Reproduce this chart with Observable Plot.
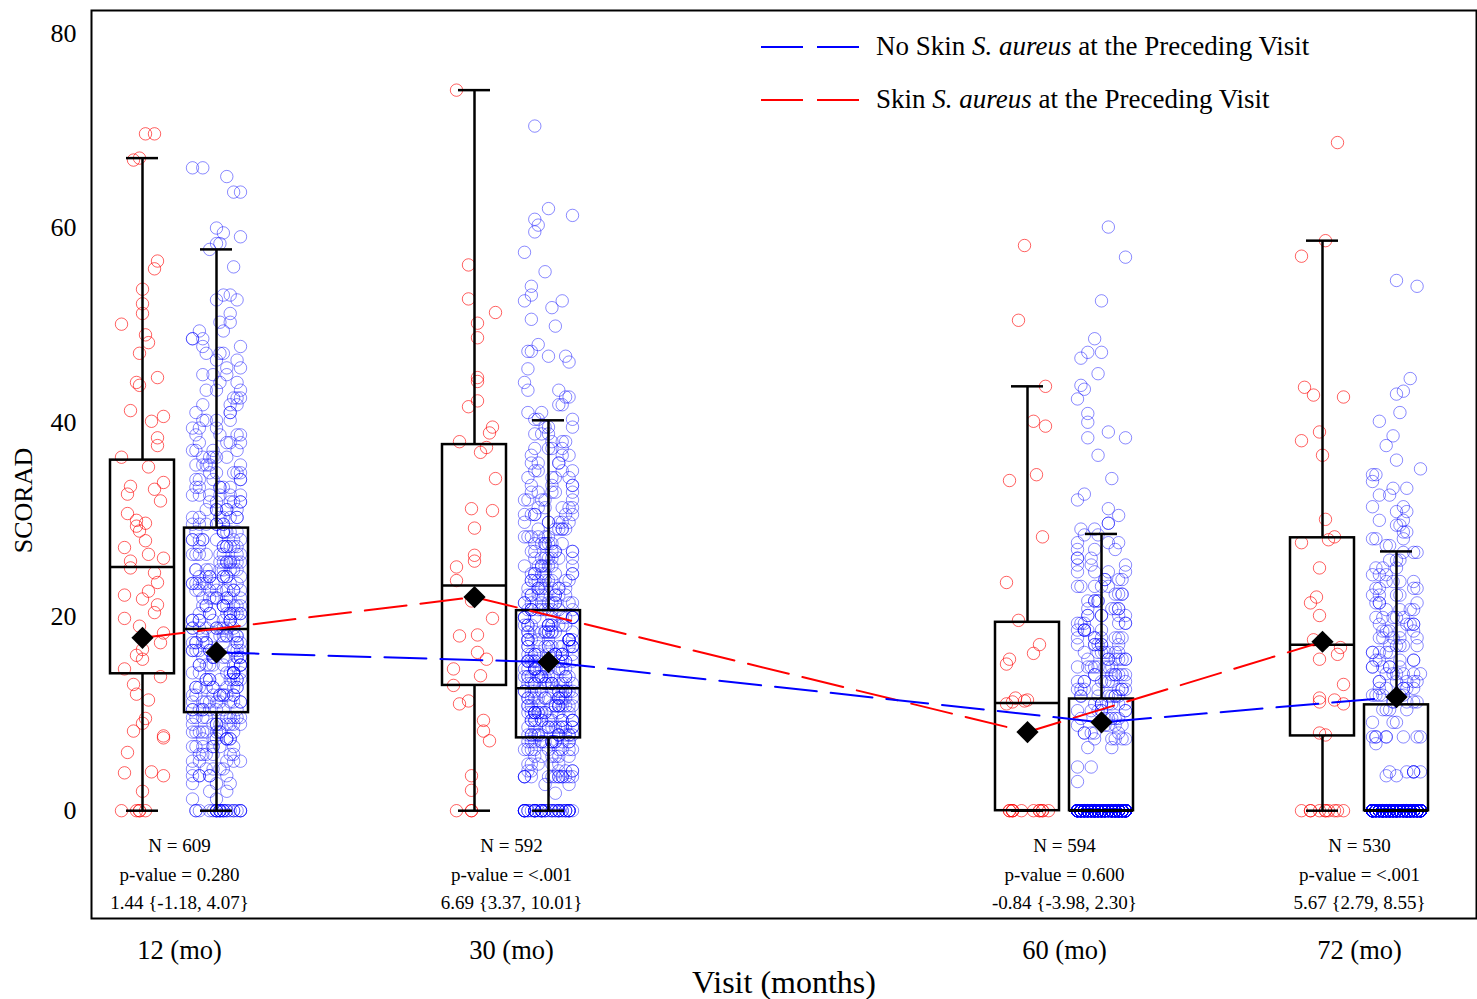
<!DOCTYPE html>
<html>
<head>
<meta charset="utf-8">
<script src="https://cdn.jsdelivr.net/npm/d3@7"></script>
<script src="https://cdn.jsdelivr.net/npm/@observablehq/plot@0.6"></script>
<style>
  html, body { margin: 0; padding: 0; background: #fff; }
  #wrap { position: relative; width: 1477px; height: 999px; font-family: 'Liberation Serif', 'Times New Roman', serif; }
  #legend { position: absolute; left: 761px; top: 20px; font-size: 27px; color: #000; }
  #legend .row { display: flex; align-items: center; height: 53px; }
  #legend svg { margin-right: 17px; }
</style>
</head>
<body>
<div id="wrap"><div id="legend"></div></div>
<script>
// ---------------- data ----------------
const visits = [12, 30, 60, 72];
const visitLabels = ["12 (mo)", "30 (mo)", "60 (mo)", "72 (mo)"];
const yTicks = [0, 20, 40, 60, 80];

const seriesNames = ["No Skin |S. aureus| at the Preceding Visit", "Skin |S. aureus| at the Preceding Visit"];
const seriesColors = ["#0000ff", "#ff0000"];

// annotation rows under each visit
const nTotal = [609, 592, 594, 530];
const pValues = ["0.280", "<.001", "0.600", "<.001"];
const diffEst = [1.44, 6.69, -0.84, 5.67];
const diffLo = [-1.18, 3.37, -3.98, 2.79];
const diffHi = [4.07, 10.01, 2.30, 8.55];

// box statistics: Skin S. aureus (red)
const redLo = [0, 0, 0, 0];
const redQ1 = [14.1, 12.9, 0, 7.7];
const redMed = [25.1, 23.2, 11.1, 17.1];
const redQ3 = [36.1, 37.7, 19.4, 28.1];
const redHi = [67.2, 74.2, 43.7, 58.7];
const redMean = [17.8, 22.0, 8.1, 17.4];

// box statistics: No Skin S. aureus (blue)
const blueLo = [0, 0, 0, 0];
const blueQ1 = [10.1, 7.5, 0, 0];
const blueMed = [18.7, 12.6, 0, 0];
const blueQ3 = [29.1, 20.6, 11.5, 10.9];
const blueHi = [57.8, 40.2, 28.5, 26.7];
const blueMean = [16.3, 15.3, 9.1, 11.7];

const red12 = [69.7,69.7,67.2,67.0,56.6,55.8,53.7,52.2,51.2,50.1,49.0,48.2,47.1,44.6,44.1,43.8,41.2,40.6,40.1,38.4,37.6,36.4,35.4,33.8,33.4,33.1,32.6,31.9,30.6,29.9,29.6,29.3,28.8,27.8,27.1,26.4,26.0,25.7,25.0,24.5,23.5,22.6,22.2,21.8,21.2,20.4,19.8,19.0,18.3,17.3,16.6,16.0,15.6,14.6,13.8,13.0,12.0,11.4,9.5,9.0,8.2,7.7,7.5,6.0,4.0,3.9,3.6,2.0,0,0,0,0,0];
const red30 = [74.2,56.2,52.7,51.3,50.2,48.7,44.6,44.2,42.2,41.6,39.5,38.9,38.0,37.4,36.9,34.2,31.1,30.9,29.1,26.3,25.7,25.1,23.7,21.6,19.8,18.1,18.0,16.3,15.6,14.6,13.9,12.9,11.3,11.0,9.3,8.2,7.2,3.6,2.1,0,0,0];
const red60 = [58.2,50.5,43.7,40.1,39.6,34.6,34.0,28.2,23.5,19.6,17.1,16.2,15.6,15.1,11.6,11.4,11.3,11.2,11.0,0,0,0,0,0,0,0,0,0,0,0,0];
const red72 = [68.8,58.7,57.1,43.6,42.8,42.6,39.0,38.1,36.6,30.0,28.2,27.9,27.6,25.0,22.0,21.4,20.1,17.6,16.8,16.1,15.6,13.0,11.6,11.4,11.2,11.0,8.0,7.8,0,0,0,0,0,0,0,0,0,0];

// blue = [value, count] pairs
const blue12 = [[66.2,2],[65.3,1],[63.7,2],[60.0,1],[59.5,1],[59.1,1],[58.4,2],[57.8,1],[56.0,1],[53.1,2],[52.6,2],[51.2,1],[50.3,2],[49.4,2],[48.6,3],[47.8,2],[47.1,3],[46.4,2],[45.6,2],[44.9,3],[44.1,2],[43.3,3],[42.5,3],[41.8,3],[41.0,3],[40.2,4],[39.4,3],[38.7,4],[37.9,4],[37.1,4],[36.4,5],[35.6,5],[34.8,5],[34.1,5],[33.3,6],[32.5,6],[31.8,6],[31.0,6],[30.2,7],[29.5,7],[28.7,7],[27.9,8],[27.2,8],[26.4,8],[25.6,9],[24.8,9],[24.1,9],[23.4,10],[22.7,9],[21.9,9],[21.1,10],[20.3,10],[19.6,10],[18.8,10],[18.0,10],[17.3,10],[16.5,10],[15.8,10],[15.0,10],[14.2,10],[13.5,10],[12.7,10],[11.9,10],[11.2,10],[10.4,9],[9.6,9],[8.9,9],[8.1,9],[7.4,8],[6.6,7],[5.8,6],[5.1,5],[4.3,5],[3.6,6],[2.8,3],[2.0,2],[1.2,2],[0,25]];
const blue30 = [[70.5,1],[62.0,1],[61.3,1],[60.9,1],[60.3,1],[59.6,1],[57.5,1],[55.5,1],[54.0,1],[53.1,1],[52.5,2],[51.8,1],[50.6,1],[49.9,1],[48.0,1],[47.3,2],[46.8,2],[46.2,1],[45.5,1],[44.1,1],[43.3,2],[42.6,2],[41.8,2],[41.0,2],[40.3,3],[39.5,3],[38.8,3],[38.0,3],[37.3,4],[36.6,3],[35.8,4],[35.0,4],[34.3,4],[33.5,4],[32.8,5],[32.0,5],[31.2,5],[30.5,6],[29.7,6],[29.0,6],[28.2,6],[27.5,7],[26.7,7],[26.0,7],[25.2,8],[24.4,8],[23.7,9],[22.9,9],[22.2,10],[21.4,10],[20.7,11],[19.9,11],[19.1,12],[18.4,12],[17.6,12],[16.9,13],[16.1,13],[15.4,13],[14.6,13],[13.8,14],[13.1,14],[12.3,14],[11.6,14],[10.8,14],[10.1,14],[9.3,13],[8.6,13],[7.8,14],[7.1,14],[6.3,9],[5.6,6],[4.8,5],[4.1,6],[3.5,14],[2.7,2],[1.8,1],[0,45]];
const blue60 = [[60.1,1],[57.0,1],[52.5,1],[48.6,1],[47.2,2],[46.6,1],[45.0,1],[43.8,1],[43.4,1],[42.4,1],[40.9,1],[40.0,1],[39.0,1],[38.4,2],[36.6,1],[34.2,1],[32.6,1],[32.0,1],[31.1,1],[30.4,1],[29.6,2],[29.0,2],[28.4,2],[27.6,3],[26.9,3],[26.0,3],[25.3,3],[24.6,4],[23.8,4],[23.1,5],[22.3,4],[21.6,5],[20.8,5],[20.1,6],[19.3,6],[18.6,6],[17.8,7],[17.1,7],[16.3,7],[15.6,8],[14.8,8],[14.0,8],[13.3,8],[12.5,8],[11.8,8],[11.0,8],[10.3,7],[9.5,6],[8.8,5],[8.0,5],[7.4,5],[6.5,2],[4.5,2],[3.0,1],[0,290]];
const blue72 = [[54.6,1],[54.0,1],[44.5,1],[43.2,1],[42.9,1],[41.0,1],[40.1,1],[38.6,1],[37.6,1],[36.1,1],[35.2,1],[34.6,2],[33.9,1],[33.2,2],[32.5,2],[31.3,2],[30.8,2],[29.9,2],[29.4,2],[28.7,2],[28.0,3],[27.3,2],[26.6,3],[25.8,3],[25.0,3],[24.3,3],[23.6,4],[22.9,4],[22.2,4],[21.4,4],[20.7,4],[19.9,5],[19.2,5],[18.5,5],[17.8,5],[17.0,5],[16.3,5],[15.5,5],[14.8,6],[14.1,6],[13.3,6],[12.6,6],[11.9,6],[11.2,5],[10.4,4],[9.1,3],[7.6,8],[6.9,1],[4.0,6],[3.6,2],[0,280]];

// ---------------- build tables ----------------
const redObs = [red12, red30, red60, red72];
const blueObs = [blue12, blue30, blue60, blue72];
const NCOL = 15;

// deterministic horizontal jitter slot (display only)
function slot(i, g) {
  const s = Math.sin((i + 1) * 12.9898 + (g + 1) * 78.233) * 43758.5453;
  return Math.floor((s - Math.floor(s)) * NCOL);
}

function pointsFrom(lists, paired, seed) {
  const out = [];
  lists.forEach((list, g) => {
    let i = 0;
    list.forEach(item => {
      const [v, c] = paired ? item : [item, 1];
      for (let k = 0; k < c; k++) { out.push({visit: visits[g], value: v, col: slot(i, g + seed)}); i++; }
    });
  });
  return out;
}
const redPoints = pointsFrom(redObs, false, 0);
const bluePoints = pointsFrom(blueObs, true, 10);

function statsFrom(lo, q1, med, q3, hi, mean) {
  return visits.map((v, i) => ({visit: v, lo: lo[i], q1: q1[i], med: med[i], q3: q3[i], hi: hi[i], mean: mean[i]}));
}
const redStats = statsFrom(redLo, redQ1, redMed, redQ3, redHi, redMean);
const blueStats = statsFrom(blueLo, blueQ1, blueMed, blueQ3, blueHi, blueMean);

const annot = visits.map((v, i) => ({
  visit: v,
  n: `N = ${nTotal[i]}`,
  p: `p-value = ${pValues[i]}`,
  ci: `${diffEst[i].toFixed(2)} {${diffLo[i].toFixed(2)}, ${diffHi[i].toFixed(2)}}`
}));

// ---------------- marks ----------------
const OFF = 37;      // pixel offset of each series from the visit centre
const BOXHALF = 32;  // half box width (px)
const CAPHALF = 16;  // half whisker cap width (px)

function jitterMarks(points, dxBase, half, color, opacity) {
  const marks = [];
  for (let c = 0; c < NCOL; c++) {
    const off = -half + (2 * half) * c / (NCOL - 1);
    marks.push(Plot.dot(points.filter(p => p.col === c), {
      x: "visit", y: "value", dx: dxBase + off, r: 6.2,
      stroke: color, strokeOpacity: opacity, strokeWidth: 1, fill: "none"
    }));
  }
  return marks;
}

function boxMarks(stats, dx) {
  const s = {stroke: "black", strokeWidth: 2.5, dx};
  return [
    Plot.ruleX(stats, {x: "visit", y1: "lo", y2: "q1", ...s}),
    Plot.ruleX(stats, {x: "visit", y1: "q3", y2: "hi", ...s}),
    Plot.ruleY(stats, {x1: "visit", x2: "visit", y: "hi", insetLeft: -CAPHALF, insetRight: -CAPHALF, ...s}),
    Plot.ruleY(stats, {x1: "visit", x2: "visit", y: "lo", insetLeft: -CAPHALF, insetRight: -CAPHALF, ...s}),
    Plot.rect(stats, {x1: "visit", x2: "visit", y1: "q1", y2: "q3", insetLeft: -BOXHALF, insetRight: -BOXHALF, fill: "none", ...s}),
    Plot.ruleY(stats, {x1: "visit", x2: "visit", y: "med", insetLeft: -BOXHALF, insetRight: -BOXHALF, ...s})
  ];
}

const chart = Plot.plot({
  width: 1477,
  height: 999,
  marginLeft: 91,
  marginRight: 1,
  marginTop: 10,
  marginBottom: 81,
  style: {fontFamily: "'Liberation Serif', 'Times New Roman', serif", background: "white", color: "black"},
  x: {type: "linear", domain: visits, range: [179, 511, 1064, 1359], axis: null},
  y: {domain: [-11.1, 82.4], axis: null},
  marks: [
    ...jitterMarks(redPoints, -OFF, 21, seriesColors[1], 0.62),
    ...jitterMarks(bluePoints, OFF, 24, seriesColors[0], 0.46),
    ...boxMarks(redStats, -OFF),
    ...boxMarks(blueStats, OFF),
    Plot.line(redStats, {x: "visit", y: "mean", dx: -OFF, stroke: seriesColors[1], strokeWidth: 2, strokeDasharray: "42,14"}),
    Plot.line(blueStats, {x: "visit", y: "mean", dx: OFF, stroke: seriesColors[0], strokeWidth: 2, strokeDasharray: "42,14"}),
    Plot.dot(redStats, {x: "visit", y: "mean", dx: -OFF, symbol: "diamond2", r: 10, fill: "black", stroke: "none"}),
    Plot.dot(blueStats, {x: "visit", y: "mean", dx: OFF, symbol: "diamond2", r: 10, fill: "black", stroke: "none"}),
    Plot.text(annot, {x: "visit", frameAnchor: "bottom", lineAnchor: "middle", dy: -73, text: "n", fontSize: 19, fill: "black"}),
    Plot.text(annot, {x: "visit", frameAnchor: "bottom", lineAnchor: "middle", dy: -44, text: "p", fontSize: 19, fill: "black"}),
    Plot.text(annot, {x: "visit", frameAnchor: "bottom", lineAnchor: "middle", dy: -16, text: "ci", fontSize: 19, fill: "black"}),
    Plot.axisY({ticks: yTicks, tickSize: 0, tickPadding: 15, fontSize: 26, label: null}),
    Plot.axisX({ticks: visits, tickFormat: d => visitLabels[visits.indexOf(d)], tickSize: 0, tickPadding: 22, fontSize: 26.5, label: null}),
    Plot.text(["Visit (months)"], {frameAnchor: "bottom", lineAnchor: "middle", textAnchor: "middle", dy: 64, fontSize: 32, fill: "black"}),
    Plot.text(["SCORAD"], {frameAnchor: "left", lineAnchor: "middle", textAnchor: "middle", dx: -68, dy: 36, rotate: -90, fontSize: 26, fill: "black"}),
    Plot.frame({stroke: "black", strokeWidth: 2})
  ]
});
document.getElementById("wrap").prepend(chart);

// ---------------- legend (inside plot, top right) ----------------
const legend = d3.select("#legend");
seriesNames.forEach((name, i) => {
  const row = legend.append("div").attr("class", "row");
  const svg = row.append("svg").attr("width", 98).attr("height", 6);
  svg.append("line").attr("x1", 0).attr("x2", 98).attr("y1", 3).attr("y2", 3)
    .attr("stroke", seriesColors[i]).attr("stroke-width", 2).attr("stroke-dasharray", "42,14");
  const span = row.append("span");
  name.split("|").forEach((part, k) => {
    span.append(k % 2 ? "i" : "span").text(part);
  });
});
</script>
</body>
</html>
